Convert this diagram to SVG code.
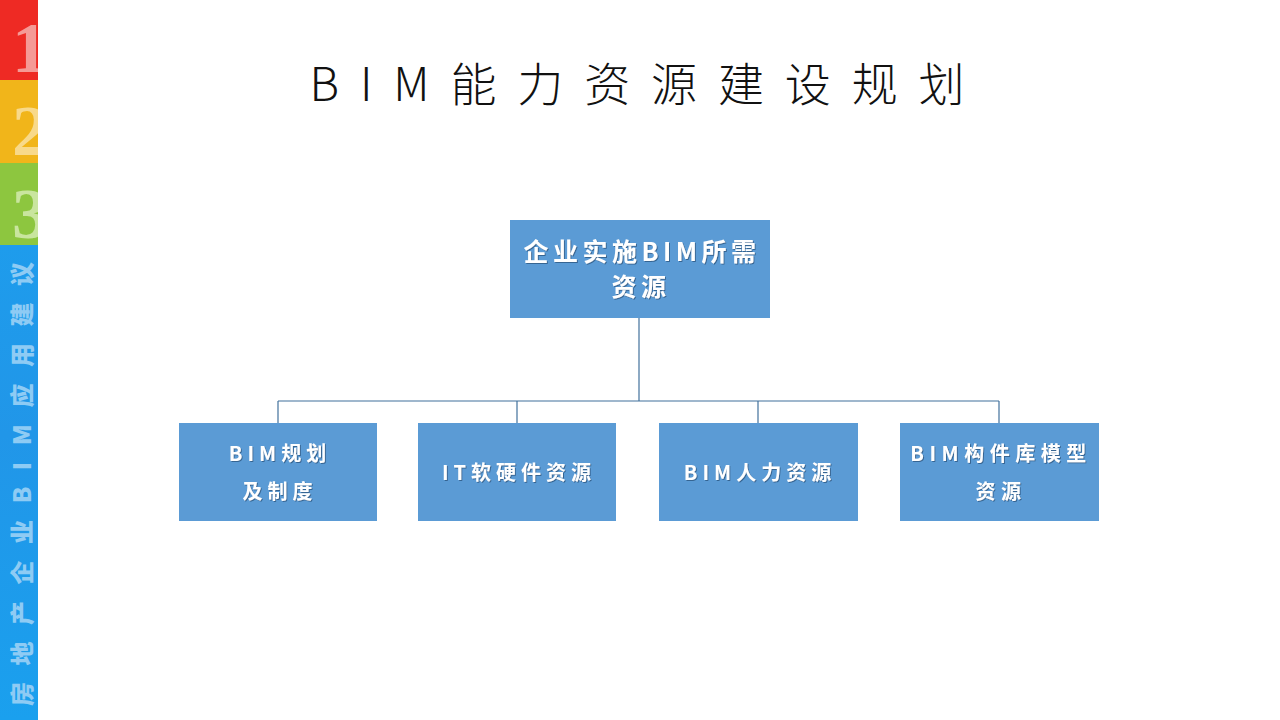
<svg xmlns="http://www.w3.org/2000/svg" width="1280" height="720" viewBox="0 0 1280 720">
<defs>
<style>
.box{fill:#5B9BD5;}
.lbl{font-family:"Noto Sans CJK SC","Liberation Sans",sans-serif;font-weight:700;fill:#FFFFFF;text-anchor:middle;filter:url(#sh);}
.conn{stroke:#41719C;stroke-width:1.2;fill:none;}
.digit{font-family:"Liberation Serif","DejaVu Serif",serif;font-weight:bold;font-size:72px;}
</style>
<filter id="sh" x="-10%" y="-20%" width="120%" height="140%">
<feDropShadow dx="1" dy="1" stdDeviation="0.6" flood-color="#1F3F66" flood-opacity="0.6"/>
</filter>
<clipPath id="strip"><rect x="0" y="0" width="38" height="720"/></clipPath>
<linearGradient id="blueg" x1="0" y1="0" x2="0" y2="1">
<stop offset="0" stop-color="#1E9CEC"/>
<stop offset="0.4" stop-color="#2196E8"/>
<stop offset="1" stop-color="#1AA0EE"/>
</linearGradient>
</defs>
<rect width="1280" height="720" fill="#FFFFFF"/>
<g id="sidebar" clip-path="url(#strip)">
<rect x="0" y="0" width="38" height="80" fill="#EE2A24"/>
<rect x="0" y="80" width="38" height="83" fill="#F1B51A"/>
<rect x="0" y="163" width="38" height="82" fill="#8DC63F"/>
<rect x="0" y="245" width="38" height="475" fill="url(#blueg)"/>
<text class="digit" x="12" y="72" fill="#F59A96" font-weight="bold">1</text>
<text class="digit" x="12" y="155" fill="#F8D98A" font-weight="bold">2</text>
<text class="digit" x="12" y="238" fill="#C9E59E" font-weight="bold">3</text>
<text transform="translate(31,706) rotate(-90)" font-family="Noto Sans CJK SC,Liberation Serif,serif" font-weight="900" font-size="24" fill="#8ECBF4" textLength="444" lengthAdjust="spacing">房地产企业BIM应用建议</text>
</g>
<g id="title">
<text x="637" y="101" font-family="Noto Sans CJK SC,Liberation Sans,sans-serif" font-weight="300" font-size="46" fill="#111111" text-anchor="middle" textLength="655" lengthAdjust="spacing">BIM能力资源建设规划</text>
</g>
<g id="connectors">
<path class="conn" d="M639 318 V401"/>
<path class="conn" d="M278 401 H999"/>
<path class="conn" d="M278 401 V423"/>
<path class="conn" d="M517 401 V423"/>
<path class="conn" d="M758 401 V423"/>
<path class="conn" d="M999 401 V423"/>
</g>
<g id="root">
<rect class="box" x="510" y="220" width="260" height="98"/>
<text class="lbl" x="642" y="261" font-size="25" letter-spacing="4.5">企业实施BIM所需</text>
<text class="lbl" x="641" y="296" font-size="25" letter-spacing="4.5">资源</text>
</g>
<g id="n1">
<rect class="box" x="179" y="423" width="198" height="98"/>
<text class="lbl" x="280" y="461" font-size="20" letter-spacing="5">BIM规划</text>
<text class="lbl" x="280" y="499" font-size="20" letter-spacing="5">及制度</text>
</g>
<g id="n2">
<rect class="box" x="418" y="423" width="198" height="98"/>
<text class="lbl" x="519" y="480" font-size="20" letter-spacing="5">IT软硬件资源</text>
</g>
<g id="n3">
<rect class="box" x="659" y="423" width="199" height="98"/>
<text class="lbl" x="760" y="480" font-size="20" letter-spacing="5">BIM人力资源</text>
</g>
<g id="n4">
<rect class="box" x="900" y="423" width="199" height="98"/>
<text class="lbl" x="1001" y="461" font-size="20" letter-spacing="5.5">BIM构件库模型</text>
<text class="lbl" x="1001" y="499" font-size="20" letter-spacing="5.5">资源</text>
</g>
</svg>
